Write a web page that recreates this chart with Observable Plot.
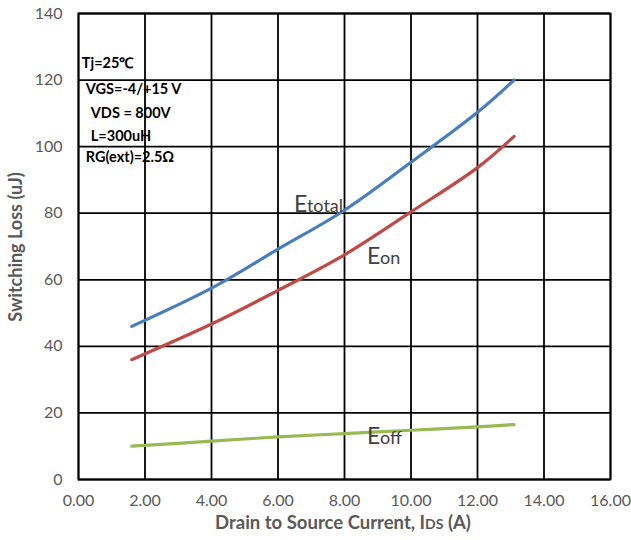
<!DOCTYPE html>
<html>
<head>
<meta charset="utf-8">
<script src="https://cdn.jsdelivr.net/npm/d3@7"></script>
<script src="https://cdn.jsdelivr.net/npm/@observablehq/plot@0.6"></script>
<style>
  body { margin: 0; background: #fff; }
  #chart svg { display: block; }
</style>
</head>
<body>
<div id="chart"></div>
<script>
const current = [1.6, 4, 6, 8, 10, 12, 13.1];
const eTotal = [46, 57.5, 69.2, 80.9, 95.3, 110.3, 120];
const eOn    = [36, 46.7, 56.8, 67.5, 80.4, 93.7, 103.1];
const eOff   = [10, 11.5, 12.8, 13.8, 14.8, 15.8, 16.5];
const xTicks = [0, 2, 4, 6, 8, 10, 12, 14, 16];
const yTicks = [0, 20, 40, 60, 80, 100, 120, 140];
const seriesNames = ["Etotal", "Eon", "Eoff"];
const seriesColors = ["#4A7EBB", "#BE4B48", "#98B954"];
const labelMain = ["E", "E", "E"];
const labelSub = ["total", "on", "off"];
const labelX = [6.48, 8.68, 8.68];
const labelY = [80.4, 64.8, 10.8];
const notes = ["Tj=25℃", "VGS=-4/+15 V", "VDS = 800V", "L=300uH", "RG(ext)=2.5Ω"];
const noteX = [0.1, 0.22, 0.37, 0.37, 0.22];
const noteY = [123.6, 115.8, 108.6, 101.6, 95.4];

const rows = [];
[eTotal, eOn, eOff].forEach((vals, i) => {
  vals.forEach((v, j) => rows.push({series: seriesNames[i], x: current[j], y: v}));
});
const labels = seriesNames.map((s, i) => ({s, main: labelMain[i], sub: labelSub[i], x: labelX[i], y: labelY[i]}));
const noteRows = notes.map((t, i) => ({t, x: noteX[i], y: noteY[i]}));

const font = "Lato, 'Open Sans', sans-serif";
const plot = Plot.plot({
  width: 631,
  height: 540,
  marginLeft: 78,
  marginRight: 21,
  marginTop: 13,
  marginBottom: 61,
  style: {fontFamily: font, fontSize: "16px", color: "#595959", background: "#fff"},
  x: {domain: [0, 16], ticks: xTicks, tickFormat: d3.format(".2f"), tickSize: 0, tickPadding: 15, label: null},
  y: {domain: [0, 140], ticks: yTicks, tickSize: 0, tickPadding: 16, label: null},
  color: {domain: seriesNames, range: seriesColors},
  marks: [
    Plot.gridX(xTicks, {stroke: "#000", strokeOpacity: 1, strokeWidth: 1.8}),
    Plot.gridY(yTicks, {stroke: "#000", strokeOpacity: 1, strokeWidth: 1.8}),
    Plot.frame({stroke: "#000", strokeWidth: 1.8}),
    Plot.line(rows, {x: "x", y: "y", z: "series", stroke: "series", strokeWidth: 3.2, curve: "catmull-rom"}),
    Plot.text(labels, {x: "x", y: "y", text: "main", textAnchor: "start", lineAnchor: "bottom", fontSize: 23, fill: "#404040"}),
    Plot.text(labels, {x: "x", y: "y", text: "sub", textAnchor: "start", lineAnchor: "bottom", fontSize: 18, fill: "#404040", dx: 13}),
    Plot.text(noteRows, {x: "x", y: "y", text: "t", textAnchor: "start", lineAnchor: "bottom", fontSize: 14.5, fontWeight: "bold", fill: "#000"})
  ]
});

const svg = d3.select(plot);
// x axis title with smaller "DS" letters
const xt = svg.append("text")
  .attr("x", 343).attr("y", 529)
  .attr("text-anchor", "middle")
  .attr("font-family", font).attr("font-weight", "bold").attr("font-size", 18.5)
  .attr("fill", "#595959");
xt.append("tspan").text("Drain to Source Current, I");
xt.append("tspan").attr("font-size", 14).text("DS");
xt.append("tspan").text(" (A)");
// y axis title
svg.append("text")
  .attr("transform", "translate(22,247) rotate(-90)")
  .attr("text-anchor", "middle")
  .attr("font-family", font).attr("font-weight", "bold").attr("font-size", 18)
  .attr("fill", "#595959")
  .text("Switching Loss (uJ)");

document.getElementById("chart").appendChild(plot);
</script>
</body>
</html>
